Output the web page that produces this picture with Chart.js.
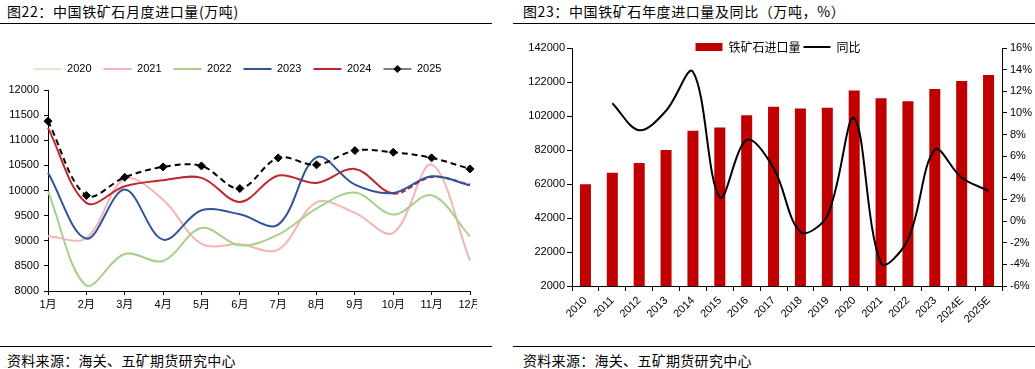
<!DOCTYPE html>
<html>
<head>
<meta charset="utf-8">
<script src="https://cdn.jsdelivr.net/npm/chart.js@4"></script>
<style>
body { margin: 0; width: 1035px; height: 369px; position: relative; background: #fff; overflow: hidden; font-family: 'Noto Sans CJK SC', sans-serif; color: #000; }
.title { position: absolute; top: 2px; font-size: 14px; line-height: 18px; white-space: nowrap; letter-spacing: 0.6px; }
.rule { position: absolute; height: 1px; background: #000; }
.src { position: absolute; top: 351px; font-size: 14px; line-height: 18px; white-space: nowrap; letter-spacing: 0.3px; }
.box { position: absolute; top: 25px; height: 320px; }
</style>
</head>
<body>
<div class="title" style="left:7px">图22：中国铁矿石月度进口量(万吨)</div>
<div class="title" style="left:523px">图23：中国铁矿石年度进口量及同比（万吨，%）</div>
<div class="rule" style="left:0;width:492px;top:23px"></div>
<div class="rule" style="left:513px;width:522px;top:23px"></div>

<div class="box" style="left:0;width:477px"><canvas id="monthChart" width="477" height="320"></canvas></div>
<div class="box" style="left:513px;width:522px"><canvas id="yearChart" width="522" height="320"></canvas></div>

<div class="rule" style="left:0;width:492px;top:346px"></div>
<div class="rule" style="left:513px;width:522px;top:346px"></div>
<div class="src" style="left:7px">资料来源：海关、五矿期货研究中心</div>
<div class="src" style="left:523px">资料来源：海关、五矿期货研究中心</div>

<script>
// monthly imports (万吨)
const months = ['1月', '2月', '3月', '4月', '5月', '6月', '7月', '8月', '9月', '10月', '11月', '12月'];
const imp2020 = [null, null, null, null, null, null, null, null, null, null, null, null];
const imp2021 = [9088, 9056, 10231, 9818, 8936, 8930, 8823, 9765, 9554, 9155, 10516, 8604];
const imp2022 = [9984, 8106, 8737, 8598, 9255, 8908, 9121, 9640, 9960, 9520, 9905, 9088];
const imp2023 = [10351, 9042, 10018, 9022, 9606, 9526, 9321, 10661, 10118, 9952, 10283, 10104];
const imp2024 = [11247, 9753, 10084, 10203, 10251, 9773, 10297, 10151, 10430, 9938, 10271, 10118];
const imp2025 = [11380, 9900, 10263, 10470, 10490, 10038, 10649, 10510, 10795, 10761, 10650, 10430];

// annual imports (万吨) and yoy (%)
const years = ['2010', '2011', '2012', '2013', '2014', '2015', '2016', '2017', '2018', '2019', '2020', '2021', '2022', '2023', '2024E', '2025E'];
const annualImports = [61864, 68608, 74355, 81941, 93251, 95272, 102412, 107474, 106447, 106895, 117010, 112431, 110686, 117906, 122600, 126100];
const yoyPct = [null, 10.9, 8.4, 10.2, 13.8, 2.2, 7.5, 4.9, -1.0, 0.5, 9.5, -3.9, -1.7, 6.6, 4.0, 2.8];

const tickFont = {family: "'Liberation Sans', Arial, 'Noto Sans CJK SC', sans-serif", size: 11};
const cjkFont = {family: "'Noto Sans CJK SC', sans-serif", size: 12};

// move the legend box after layout
const shiftLegend = {
    id: 'shiftLegend',
    afterLayout(chart, args, opts) {
        const lg = chart.legend;
        if (!lg) return;
        const dx = opts.dx || 0, dy = opts.dy || 0;
        lg.left += dx; lg.right += dx;
        lg.top += dy; lg.bottom += dy;
    }
};

// diamond marker on the 2025 legend line
const legendDiamond = {
    id: 'legendDiamond',
    afterDraw(chart, args, opts) {
        if (!opts.label) return;
        const lg = chart.legend;
        const i = lg.legendItems.findIndex(it => it.text === opts.label);
        if (i < 0) return;
        const hb = lg.legendHitBoxes[i];
        const cx = hb.left + opts.boxWidth / 2;
        const cy = hb.top + opts.fontSize / 2;
        const ctx = chart.ctx;
        ctx.save();
        ctx.fillStyle = '#000';
        ctx.beginPath();
        ctx.moveTo(cx, cy - 4);
        ctx.lineTo(cx + 4, cy);
        ctx.lineTo(cx, cy + 4);
        ctx.lineTo(cx - 4, cy);
        ctx.closePath();
        ctx.fill();
        ctx.restore();
    }
};

function axisGrid(len) {
    return {display: true, drawOnChartArea: false, drawTicks: true, tickLength: len, color: '#000'};
}

function monthLine(label, data, color, order, extra) {
    return Object.assign({
        label: label,
        data: data,
        borderColor: color,
        backgroundColor: color,
        borderWidth: 2,
        pointRadius: 0,
        tension: 0.35,
        fill: false,
        order: order
    }, extra || {});
}

const byIndex = (a, b) => a.datasetIndex - b.datasetIndex;

new Chart(document.getElementById('monthChart'), {
    type: 'line',
    data: {
        labels: months,
        datasets: [
            monthLine('2020', imp2020, '#d8eacb', 5),
            monthLine('2021', imp2021, '#f4b4b4', 4),
            monthLine('2022', imp2022, '#a8d08d', 3),
            monthLine('2023', imp2023, '#2f5597', 1),
            monthLine('2024', imp2024, '#c0262d', 2, {
                segment: {borderDash: ctx => ctx.p0DataIndex >= 9 ? [5, 3] : undefined}
            }),
            monthLine('2025', imp2025, '#000', 0, {
                borderDash: [6, 4],
                pointRadius: 4,
                pointStyle: 'rectRot',
                pointBackgroundColor: '#000',
                pointBorderColor: '#000',
                pointBorderWidth: 1
            })
        ]
    },
    options: {
        responsive: false,
        animation: false,
        layout: {padding: {left: 0, right: 7, top: 32, bottom: 34}},
        plugins: {
            tooltip: {enabled: false},
            legend: {
                position: 'top',
                labels: {
                    sort: byIndex,
                    usePointStyle: true,
                    pointStyleWidth: 28,
                    padding: 12,
                    color: '#000',
                    font: tickFont,
                    generateLabels: chart => Chart.defaults.plugins.legend.labels.generateLabels(chart)
                        .map(it => Object.assign(it, {pointStyle: 'line'}))
                }
            },
            shiftLegend: {dx: 2.5, dy: -5.5},
            legendDiamond: {label: '2025', boxWidth: 28, fontSize: 11}
        },
        scales: {
            x: {
                grid: axisGrid(4),
                border: {display: true, color: '#000', width: 1},
                ticks: {font: tickFont, color: '#000', padding: 3, maxRotation: 0, autoSkip: false},
                afterFit: s => { s.paddingLeft = 0; s.paddingRight = 0; s.height = 20; }
            },
            y: {
                min: 8000,
                max: 12000,
                grid: axisGrid(4),
                border: {display: true, color: '#000', width: 1},
                ticks: {stepSize: 500, font: tickFont, color: '#000', padding: 5, callback: v => String(v)},
                afterFit: s => { s.width = 48; }
            }
        }
    },
    plugins: [shiftLegend, legendDiamond]
});

new Chart(document.getElementById('yearChart'), {
    type: 'bar',
    data: {
        labels: years,
        datasets: [
            {
                type: 'bar',
                label: '铁矿石进口量',
                data: annualImports,
                backgroundColor: '#c00000',
                borderWidth: 0,
                yAxisID: 'y',
                order: 2,
                barPercentage: 0.41,
                categoryPercentage: 1
            },
            {
                type: 'line',
                label: '同比',
                data: yoyPct,
                borderColor: '#000',
                backgroundColor: '#000',
                borderWidth: 2,
                pointRadius: 0,
                tension: 0.35,
                yAxisID: 'y1',
                order: 1
            }
        ]
    },
    options: {
        responsive: false,
        animation: false,
        layout: {padding: {left: 0, right: 0, top: -2, bottom: 19}},
        plugins: {
            tooltip: {enabled: false},
            legend: {
                position: 'top',
                align: 'center',
                labels: {
                    sort: byIndex,
                    usePointStyle: true,
                    pointStyleWidth: 27,
                    boxHeight: 8,
                    padding: 3,
                    color: '#000',
                    font: cjkFont,
                    generateLabels: chart => Chart.defaults.plugins.legend.labels.generateLabels(chart)
                        .map(it => Object.assign(it, {pointStyle: it.datasetIndex === 0 ? 'rect' : 'line'}))
                }
            },
            shiftLegend: {dx: 4, dy: 15}
        },
        scales: {
            x: {
                grid: Object.assign(axisGrid(5), {offset: true}),
                border: {display: true, color: '#000', width: 1},
                ticks: {font: tickFont, color: '#000', padding: 3, minRotation: 45, maxRotation: 45, autoSkip: false},
                afterFit: s => { s.paddingLeft = 0; s.paddingRight = 0; s.height = 40; }
            },
            y: {
                position: 'left',
                min: 2000,
                max: 142000,
                grid: axisGrid(5),
                border: {display: true, color: '#000', width: 1},
                ticks: {stepSize: 20000, font: tickFont, color: '#000', padding: 2, callback: v => String(v)},
                afterFit: s => { s.width = 59; }
            },
            y1: {
                position: 'right',
                min: -6,
                max: 16,
                grid: axisGrid(5),
                border: {display: true, color: '#000', width: 1},
                ticks: {stepSize: 2, font: tickFont, color: '#000', padding: 3, callback: v => v + '%'},
                afterFit: s => { s.width = 33; }
            }
        }
    },
    plugins: [shiftLegend]
});
</script>
</body>
</html>
